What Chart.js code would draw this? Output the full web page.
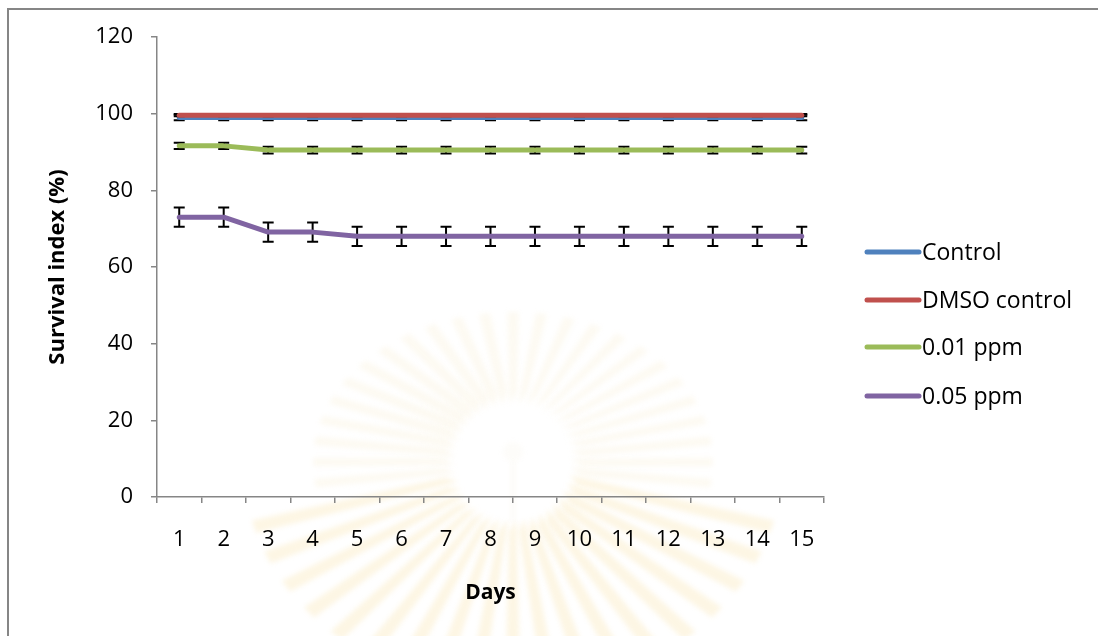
<!DOCTYPE html>
<html>
<head>
<meta charset="utf-8">
<title>Survival index</title>
<script src="https://cdn.jsdelivr.net/npm/chart.js@4/dist/chart.umd.min.js"></script>
<style>
  html, body { margin: 0; padding: 0; background: #fff; }
  #wrap { width: 1098px; height: 636px; }
</style>
</head>
<body>
<div id="wrap"><canvas id="chart" width="1098" height="636"></canvas></div>
<script>
// Days of observation
const days = ['1','2','3','4','5','6','7','8','9','10','11','12','13','14','15'];

// Survival index (%) per group, with standard error
const control      = [99.0, 99.0, 99.0, 99.0, 99.0, 99.0, 99.0, 99.0, 99.0, 99.0, 99.0, 99.0, 99.0, 99.0, 99.0];
const controlErr   = [0.7, 0.7, 0.7, 0.7, 0.7, 0.7, 0.7, 0.7, 0.7, 0.7, 0.7, 0.7, 0.7, 0.7, 0.7];
const dmso         = [99.6, 99.6, 99.6, 99.6, 99.6, 99.6, 99.6, 99.6, 99.6, 99.6, 99.6, 99.6, 99.6, 99.6, 99.6];
const dmsoErr      = [0.3, 0.3, 0.3, 0.3, 0.3, 0.3, 0.3, 0.3, 0.3, 0.3, 0.3, 0.3, 0.3, 0.3, 0.3];
const ppm001       = [91.6, 91.6, 90.5, 90.5, 90.5, 90.5, 90.5, 90.5, 90.5, 90.5, 90.5, 90.5, 90.5, 90.5, 90.5];
const ppm001Err    = [0.8, 0.8, 0.9, 0.9, 0.9, 0.9, 0.9, 0.9, 0.9, 0.9, 0.9, 0.9, 0.9, 0.9, 0.9];
const ppm005       = [73.0, 73.0, 69.1, 69.1, 68.0, 68.0, 68.0, 68.0, 68.0, 68.0, 68.0, 68.0, 68.0, 68.0, 68.0];
const ppm005Err    = [2.5, 2.5, 2.5, 2.5, 2.5, 2.5, 2.5, 2.5, 2.5, 2.5, 2.5, 2.5, 2.5, 2.5, 2.5];

const seriesNames  = ['Control', 'DMSO control', '0.01 ppm', '0.05 ppm'];
const seriesColors = ['#4F81BD', '#C0504D', '#9BBB59', '#8064A2'];
const yTicks       = [0, 20, 40, 60, 80, 100, 120];

const FONT = "'Open Sans', 'Noto Sans', sans-serif";
const AXIS_GRAY = '#868686';

// Faint sunburst emblem in the page background
const emblem = {
  id: 'emblem',
  beforeDraw(chart) {
    const ctx = chart.ctx;
    const cx = 513, cy = 462;
    ctx.save();
    ctx.filter = 'blur(2.5px)';
    const n = 44;
    for (let i = 0; i < n; i++) {
      const a = (i / n) * Math.PI * 2;
      const da = Math.PI / n * 0.8;
      const below = Math.sin(a) > 0.15;
      const rx = below ? 270 : 200, ry = below ? 230 : 150;
      const r0 = 58, r1 = 70;
      ctx.beginPath();
      ctx.moveTo(cx + Math.cos(a - da) * r0, cy + Math.sin(a - da) * r0);
      ctx.lineTo(cx + Math.cos(a - da * 0.5) * rx, cy + Math.sin(a - da * 0.5) * ry);
      ctx.lineTo(cx + Math.cos(a + da * 0.5) * rx, cy + Math.sin(a + da * 0.5) * ry);
      ctx.lineTo(cx + Math.cos(a + da) * r1, cy + Math.sin(a + da) * r1);
      ctx.closePath();
      ctx.fillStyle = below ? 'rgba(244, 208, 120, 0.20)' : 'rgba(242, 222, 175, 0.16)';
      ctx.fill();
    }
    ctx.beginPath();
    ctx.arc(cx, cy - 10, 10, 0, Math.PI * 2);
    ctx.fillStyle = 'rgba(235, 225, 200, 0.10)';
    ctx.fill();
    ctx.fillRect(cx - 3, cy, 6, 60);
    ctx.restore();
  }
};

// Outer frame of the chart
const frame = {
  id: 'frame',
  afterDraw(chart) {
    const ctx = chart.ctx;
    ctx.save();
    ctx.strokeStyle = AXIS_GRAY;
    ctx.lineWidth = 2;
    ctx.strokeRect(8, 9, 1200, 700);
    ctx.restore();
  }
};

// Vertical error bars with caps, drawn beneath each series line
const errorBars = {
  id: 'errorBars',
  beforeDatasetDraw(chart, args) {
    const ds = chart.data.datasets[args.index];
    if (!ds.errors) return;
    const meta = args.meta;
    const yScale = chart.scales.y;
    const ctx = chart.ctx;
    ctx.save();
    ctx.strokeStyle = '#000';
    ctx.lineWidth = 2;
    meta.data.forEach((pt, i) => {
      const v = ds.data[i], e = ds.errors[i];
      const x = pt.x;
      const yTop = yScale.getPixelForValue(v + e);
      const yBot = yScale.getPixelForValue(v - e);
      ctx.beginPath();
      ctx.moveTo(x, yTop); ctx.lineTo(x, yBot);
      ctx.moveTo(x - 5.5, yTop); ctx.lineTo(x + 5.5, yTop);
      ctx.moveTo(x - 5.5, yBot); ctx.lineTo(x + 5.5, yBot);
      ctx.stroke();
    });
    ctx.restore();
  }
};

// Legend at the right side
const sideLegend = {
  id: 'sideLegend',
  afterDraw(chart) {
    const ctx = chart.ctx;
    const rows = [252, 300, 347, 396];
    ctx.save();
    ctx.font = '23px ' + FONT;
    ctx.textBaseline = 'middle';
    ctx.textAlign = 'left';
    seriesNames.forEach((name, i) => {
      const y = rows[i];
      ctx.strokeStyle = seriesColors[i];
      ctx.lineWidth = 5;
      ctx.lineCap = 'round';
      ctx.beginPath();
      ctx.moveTo(867, y); ctx.lineTo(919, y);
      ctx.stroke();
      ctx.fillStyle = '#000';
      ctx.fillText(name, 922, y + 1);
    });
    ctx.restore();
  }
};

const seriesValues = [control, dmso, ppm001, ppm005];
const seriesErrors = [controlErr, dmsoErr, ppm001Err, ppm005Err];

new Chart(document.getElementById('chart'), {
  type: 'line',
  data: {
    labels: days,
    datasets: seriesNames.map((name, i) => ({
      label: name,
      data: seriesValues[i],
      errors: seriesErrors[i],
      borderColor: seriesColors[i],
      backgroundColor: seriesColors[i],
      borderWidth: 5,
      borderCapStyle: 'round',
      borderJoinStyle: 'round',
      pointRadius: 0,
      tension: 0,
      order: 4 - i
    }))
  },
  options: {
    responsive: false,
    devicePixelRatio: 1,
    animation: false,
    layout: { padding: { left: 0, right: 274, top: 37, bottom: 0 } },
    plugins: {
      legend: { display: false },
      tooltip: { enabled: false }
    },
    scales: {
      x: {
        offset: true,
        grid: {
          offset: true,
          drawOnChartArea: false,
          drawTicks: true,
          tickLength: 6,
          color: AXIS_GRAY,
          lineWidth: 1.5
        },
        border: { display: true, color: AXIS_GRAY, width: 1.5 },
        ticks: {
          color: '#000',
          font: { family: FONT, size: 22 },
          padding: 24,
          maxRotation: 0,
          autoSkip: false
        },
        title: {
          display: true,
          text: 'Days',
          color: '#000',
          font: { family: FONT, size: 21, weight: 'bold' },
          padding: { top: 0, bottom: 30 }
        },
        afterFit(scale) { scale.height = 139; }
      },
      y: {
        min: 0,
        max: 120,
        afterBuildTicks(scale) { scale.ticks = yTicks.map(v => ({ value: v })); },
        grid: {
          drawOnChartArea: false,
          drawTicks: true,
          tickLength: 6,
          color: AXIS_GRAY,
          lineWidth: 1.5
        },
        border: { display: true, color: AXIS_GRAY, width: 1.5 },
        ticks: {
          color: '#000',
          font: { family: FONT, size: 22 },
          padding: 18
        },
        title: {
          display: true,
          text: 'Survival index (%)',
          color: '#000',
          font: { family: FONT, size: 22, weight: 'bold' },
          padding: { top: 45, bottom: 0 }
        },
        afterFit(scale) { scale.width = 157; }
      }
    }
  },
  plugins: [emblem, errorBars, sideLegend, frame]
});
</script>
</body>
</html>
